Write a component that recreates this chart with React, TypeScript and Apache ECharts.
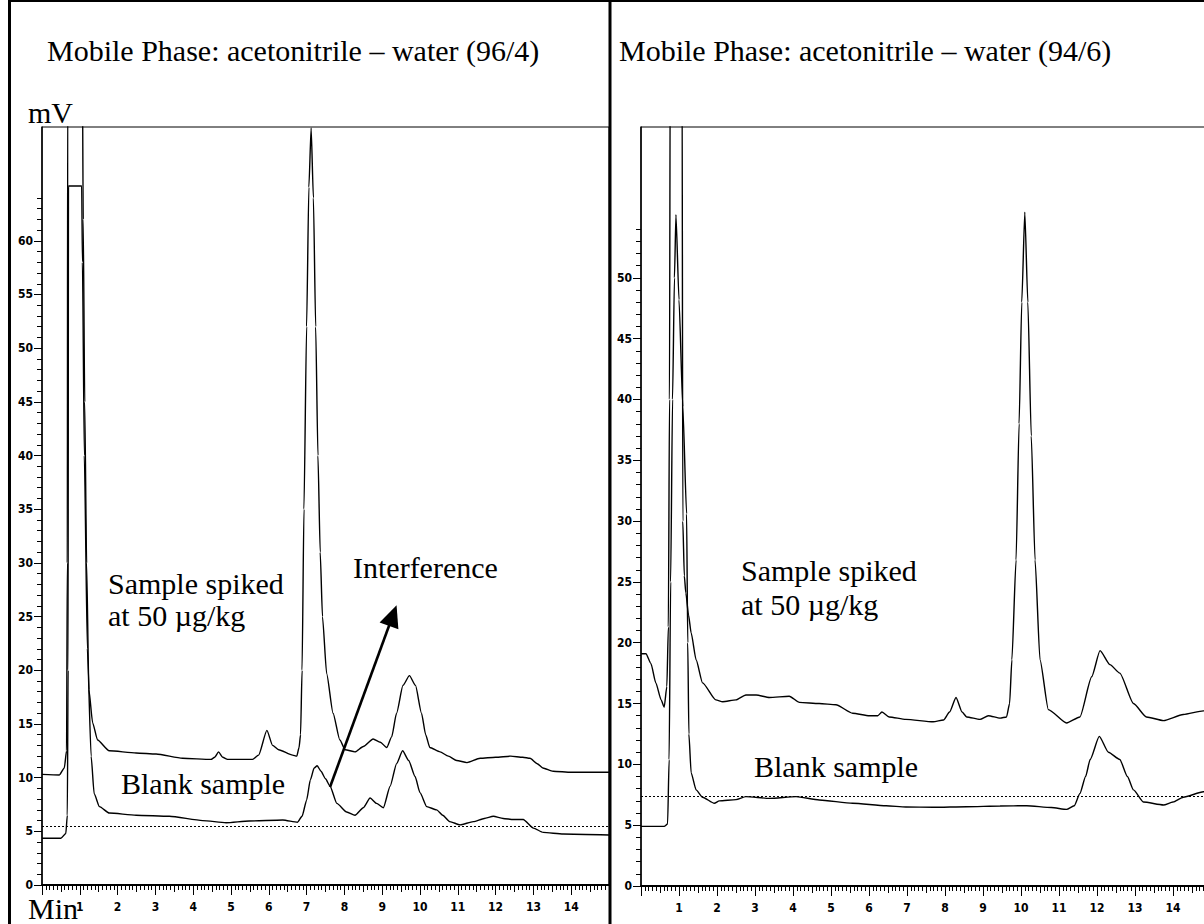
import React, { useEffect, useRef } from "react";
import * as echarts from "echarts";

// ---------- data (time in min, signal in mV) ----------
const leftSpiked: [number, number][] = [
  [0, 10.3], [0.46, 10.25], [0.59, 10.9], [0.65, 12.5], [0.67, 30], [0.68, 75], [1.07, 75], [1.09, 62],
  [1.13, 45], [1.18, 30], [1.24, 18.2], [1.34, 15.1], [1.47, 13.5], [1.78, 12.5], [2.49, 12.3], [3.02, 12.2],
  [3.72, 11.8], [4.47, 11.7], [4.57, 11.9], [4.67, 12.4], [4.78, 11.9], [4.91, 11.7], [5.57, 11.7], [5.73, 12.1],
  [5.95, 14.4], [6.1, 13.0], [6.26, 12.6], [6.63, 12.1], [6.74, 12.0], [6.8, 12.8], [6.84, 14], [6.88, 20],
  [6.93, 35], [7.0, 52], [7.06, 65], [7.12, 70.5], [7.18, 64], [7.24, 52], [7.3, 40], [7.36, 31], [7.42, 25],
  [7.53, 19.7], [7.7, 16], [7.88, 13.5], [8.02, 12.6], [8.28, 12.4], [8.5, 12.9], [8.76, 13.6], [8.95, 13.3],
  [9.12, 12.8], [9.25, 13.8], [9.38, 16], [9.55, 18.6], [9.72, 19.5], [9.88, 18.6], [10.04, 16], [10.15, 14],
  [10.26, 12.8], [10.53, 12.4], [10.75, 12.0], [10.97, 11.6], [11.24, 11.4], [11.59, 11.8], [12.0, 11.9],
  [12.4, 12.0], [12.72, 11.9], [12.91, 11.8], [13.1, 11.3], [13.25, 10.9], [13.52, 10.6], [14.0, 10.5], [15, 10.5],
];

const leftBlank: [number, number][] = [
  [0, 4.35], [0.5, 4.35], [0.63, 4.8], [0.67, 6.5], [0.69, 20], [0.7, 65.1], [1.05, 65.1], [1.07, 58],
  [1.12, 40], [1.2, 22], [1.3, 12], [1.38, 8.5], [1.52, 7.3], [1.78, 6.7], [2.49, 6.5], [3.37, 6.4],
  [4.25, 6.0], [4.87, 5.8], [5.48, 5.96], [6.37, 6.06], [6.76, 5.85], [6.88, 6.4], [7.0, 7.9], [7.1, 9.8],
  [7.2, 10.9], [7.28, 11.1], [7.38, 10.6], [7.5, 9.9], [7.62, 9.2], [7.8, 7.6], [8.06, 6.8], [8.28, 6.5],
  [8.5, 7.2], [8.68, 8.1], [8.85, 7.6], [9.03, 7.2], [9.21, 9.2], [9.38, 11.3], [9.54, 12.5], [9.7, 11.6],
  [9.87, 10.1], [10.0, 8.6], [10.18, 7.3], [10.44, 7.0], [10.6, 6.5], [10.79, 5.9], [11.06, 5.6], [11.41, 5.9],
  [11.7, 6.2], [11.94, 6.4], [12.2, 6.2], [12.47, 6.1], [12.73, 6.1], [13.0, 5.3], [13.26, 4.9], [13.79, 4.75],
  [15, 4.66],
];

const rightSpiked: [number, number][] = [
  [0, 19.1], [0.13, 19.1], [0.26, 18.3], [0.39, 16.7], [0.53, 15.3], [0.61, 14.7], [0.68, 16.4], [0.72, 21.3],
  [0.75, 40], [0.77, 70], [1.08, 70], [1.1, 30], [1.14, 25.5], [1.18, 24.1], [1.25, 22.3], [1.32, 20.8],
  [1.45, 18.6], [1.62, 16.7], [1.97, 15.3], [2.15, 15.15], [2.5, 15.3], [2.76, 15.7], [3.03, 15.7], [3.38, 15.5],
  [3.9, 15.6], [4.17, 15.1], [4.69, 15.0], [5.13, 14.9], [5.57, 14.2], [6.01, 14.0], [6.23, 14.0], [6.34, 14.3],
  [6.53, 13.9], [6.97, 13.7], [7.69, 13.5], [7.96, 13.65], [8.12, 14.3], [8.29, 15.5], [8.45, 14.3], [8.57, 13.9],
  [8.92, 13.7], [9.14, 14.0], [9.45, 13.8], [9.62, 13.9], [9.7, 15], [9.76, 18.6], [9.87, 26.8], [9.95, 38],
  [10.02, 48], [10.1, 55.4], [10.18, 48], [10.27, 37], [10.37, 26.8], [10.5, 18.6], [10.72, 14.5], [11.2, 13.4],
  [11.55, 13.9], [11.86, 17.2], [12.08, 19.35], [12.34, 18.2], [12.6, 17.5], [12.96, 15.0], [13.3, 13.9],
  [13.75, 13.6], [14.27, 14.1], [14.8, 14.4], [15, 14.5],
];

const rightBlank: [number, number][] = [
  [0, 4.9], [0.61, 4.9], [0.7, 5.1], [0.74, 10.4], [0.78, 25], [0.83, 40], [0.88, 50], [0.92, 55.2],
  [1.0, 48.2], [1.1, 39.4], [1.2, 30.6], [1.23, 20], [1.26, 12.5], [1.32, 9.3], [1.45, 7.9], [1.62, 7.3],
  [1.93, 6.8], [2.06, 7.0], [2.5, 7.1], [2.76, 7.35], [3.38, 7.2], [4.08, 7.35], [4.69, 7.07], [5.57, 6.8],
  [6.45, 6.6], [6.97, 6.5], [7.69, 6.47], [8.57, 6.52], [9.45, 6.58], [10.15, 6.6], [10.8, 6.45], [11.2, 6.3],
  [11.4, 6.6], [11.55, 7.6], [11.7, 9.0], [11.82, 10.4], [12.06, 12.3], [12.3, 11.0], [12.6, 10.4], [12.8, 9.0],
  [12.96, 7.9], [13.22, 6.9], [13.75, 6.66], [14.0, 6.9], [14.27, 7.3], [14.8, 7.75], [15, 7.8],
];

const leftDottedLevel = 5.5;
const rightDottedLevel = 7.4;
const arrowTail: [number, number] = [7.62, 9.13];
const arrowHead: [number, number] = [9.28, 25.1];

const leftTitle = "Mobile Phase: acetonitrile \u2013 water (96/4)";
const rightTitle = "Mobile Phase: acetonitrile \u2013 water (94/6)";
const spikedLabel1 = "Sample spiked";
const spikedLabel2 = "at 50 \u00b5g/kg";
const blankLabel = "Blank sample";
const interferenceLabel = "Interference";

const xMax = 15;
const leftYMax = 70.6;
const rightYMax = 62.4;
const leftLabelMax = 60;
const leftTickMax = 64;
const rightLabelMax = 50;
const rightTickMax = 54;
const xLabelMin = 1;
const xLabelMax = 14;

// ---------- layout ----------
const L = { left: 42, top: 127, width: 567, height: 758 };
const R = { left: 641, top: 127, width: 570, height: 759 };

const tickFont = {
  fontFamily: '"Liberation Sans Narrow", "DejaVu Sans Condensed", "Liberation Sans", sans-serif',
  fontWeight: "bold" as const,
  fontSize: 12,
  color: "#000",
};
const serif = '30px "Liberation Serif", "Times New Roman", serif';

function subGrid(g: typeof L, yMax: number, v: number) {
  const h = (g.height * v) / yMax;
  return { left: g.left, top: g.top + g.height - h, width: g.width, height: h, show: false };
}

function buildPanel(g: typeof L, yMax: number, labelMax: number, tickMax: number, gridBase: number) {
  const grids = [
    { ...g, show: true, borderColor: "#000", borderWidth: 1, backgroundColor: "transparent" },
    subGrid(g, yMax, labelMax),
    subGrid(g, yMax, tickMax),
    { ...g, show: false },
  ];
  const xAxes = [
    {
      gridIndex: gridBase, type: "value", min: 0, max: xMax, interval: 1, position: "bottom",
      axisLine: { show: true, onZero: false, lineStyle: { color: "#000", width: 2 } },
      axisTick: { show: true, length: 10, lineStyle: { color: "#000", width: 1 } },
      minorTick: { show: true, splitNumber: 10, length: 5, lineStyle: { color: "#000", width: 1 } },
      splitLine: { show: false },
      axisLabel: {
        ...tickFont, margin: 16,
        formatter: (v: number) => (v >= xLabelMin && v <= xLabelMax ? String(v) : ""),
      },
    },
    { gridIndex: gridBase + 1, type: "value", min: 0, max: 1, show: false },
    { gridIndex: gridBase + 2, type: "value", min: 0, max: 1, show: false },
    {
      gridIndex: gridBase + 3, type: "value", min: 0, max: xMax, interval: 0.5, position: "bottom",
      axisLine: { show: false }, splitLine: { show: false }, axisLabel: { show: false },
      axisTick: { show: true, length: 7, lineStyle: { color: "#000", width: 1 } },
    },
  ];
  const yAxes = [
    {
      gridIndex: gridBase, type: "value", min: 0, max: yMax,
      axisLine: { show: true, lineStyle: { color: "#000", width: 1.5 } },
      axisTick: { show: false }, axisLabel: { show: false }, splitLine: { show: false },
    },
    {
      gridIndex: gridBase + 1, type: "value", min: 0, max: labelMax, interval: 5,
      axisLine: { show: false }, splitLine: { show: false },
      axisTick: { show: true, length: 8, lineStyle: { color: "#000", width: 1 } },
      axisLabel: { ...tickFont, margin: 9 },
    },
    {
      gridIndex: gridBase + 2, type: "value", min: 0, max: tickMax, interval: 1,
      axisLine: { show: false }, splitLine: { show: false }, axisLabel: { show: false },
      axisTick: { show: true, length: 5, lineStyle: { color: "#000", width: 1 } },
    },
    { gridIndex: gridBase + 3, type: "value", min: 0, max: 1, show: false },
  ];
  return { grids, xAxes, yAxes };
}

const lineSeries = (name: string, data: [number, number][], axisIndex: number, extra: any = {}) => ({
  name, type: "line", data, xAxisIndex: axisIndex, yAxisIndex: axisIndex,
  symbol: "none", smooth: 0.2, smoothMonotone: "x", clip: true, silent: true,
  lineStyle: { color: "#000", width: 1.4 },
  ...extra,
});

const dotted = (level: number) => ({
  silent: true, symbol: "none", animation: false,
  label: { show: false },
  lineStyle: { color: "#000", type: [2, 2], width: 1.2 },
  data: [{ yAxis: level }],
});

const text = (t: string, x: number, y: number) => ({
  type: "text", silent: true,
  style: {
    text: t, x, y, font: serif, fill: "#000",
    align: "left", verticalAlign: "middle", textAlign: "left", textVerticalAlign: "middle",
  },
});

const vline = (x: number, y1: number, y2: number, w: number) => ({
  type: "line", silent: true,
  shape: { x1: x, y1, x2: x, y2 },
  style: { stroke: "#000", lineWidth: w },
});

export default function App() {
  const ref = useRef<HTMLDivElement>(null);
  useEffect(() => {
    if (!ref.current) return;
    const chart = echarts.init(ref.current, undefined, { renderer: "svg" });
    const lp = buildPanel(L, leftYMax, leftLabelMax, leftTickMax, 0);
    const rp = buildPanel(R, rightYMax, rightLabelMax, rightTickMax, 4);
    const option: any = {
      animation: false,
      backgroundColor: "#fff",
      grid: [...lp.grids, ...rp.grids],
      xAxis: [...lp.xAxes, ...rp.xAxes],
      yAxis: [...lp.yAxes, ...rp.yAxes],
      series: [
        lineSeries("Left spiked", leftSpiked, 0, {
          markLine: {
            silent: true, animation: false,
            symbol: ["none", "triangle"], symbolSize: [20, 22],
            label: { show: false },
            lineStyle: { color: "#000", type: "solid", width: 2.6 },
            data: [[{ coord: arrowTail }, { coord: arrowHead }]],
          },
        }),
        lineSeries("Left blank", leftBlank, 0, { markLine: dotted(leftDottedLevel) }),
        lineSeries("Right spiked", rightSpiked, 4),
        lineSeries("Right blank", rightBlank, 4, { markLine: dotted(rightDottedLevel) }),
      ],
      graphic: [
        vline(9.5, 0, 924, 3),
        vline(610, 0, 924, 3),
        { type: "line", silent: true, shape: { x1: 8, y1: 1, x2: 1204, y2: 1 }, style: { stroke: "#000", lineWidth: 2 } },
        text(leftTitle, 47, 50),
        text(rightTitle, 619, 50),
        text("mV", 28, 112),
        text("Min", 28, 908),
        text(spikedLabel1, 108, 583),
        text(spikedLabel2, 108, 615),
        text(interferenceLabel, 353, 567),
        text(blankLabel, 121, 783),
        text(spikedLabel1, 741, 570),
        text(spikedLabel2, 741, 604),
        text(blankLabel, 754, 766),
      ],
    };
    chart.setOption(option);
    return () => chart.dispose();
  }, []);
  return (
    <div
      ref={ref}
      style={{ position: "fixed", left: 0, top: 0, width: 1220, height: 924, background: "#fff" }}
    />
  );
}
